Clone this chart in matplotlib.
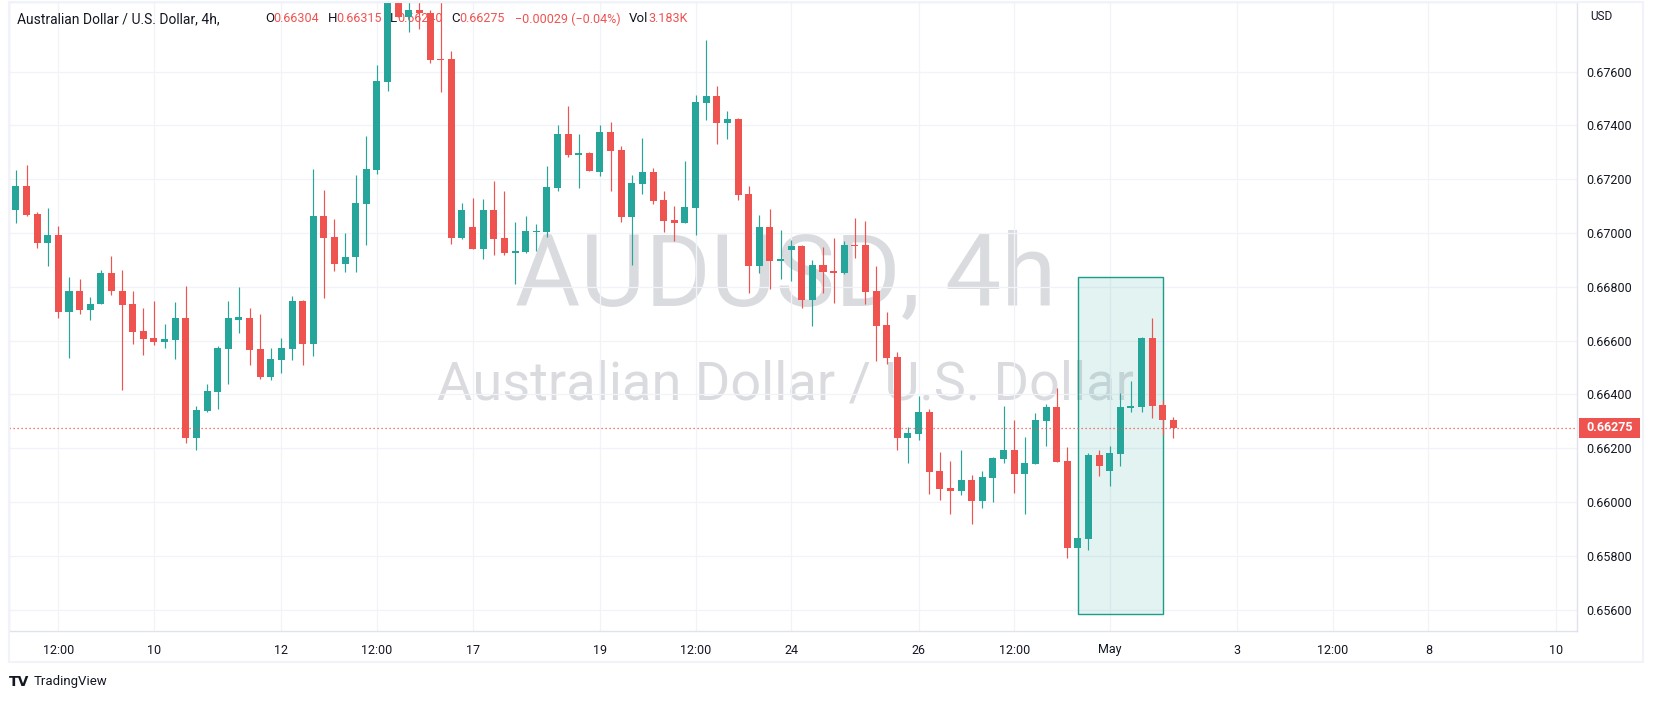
import matplotlib
matplotlib.use("Agg")
import matplotlib.pyplot as plt
from matplotlib.patches import Rectangle
import numpy as np

plt.rcParams['font.family'] = ['Roboto', 'DejaVu Sans']

# ---------------- data (4h candles, AUDUSD) ----------------
opens = [0.67086, 0.67175, 0.67072, 0.66962, 0.66994, 0.66706, 0.66786, 0.66714, 0.66736, 0.66853,
         0.66786, 0.66735, 0.66635, 0.66609, 0.66595, 0.66603, 0.66686, 0.66240, 0.66340, 0.66410,
         0.66569, 0.66678, 0.66686, 0.66568, 0.66465, 0.66528, 0.66569, 0.66746, 0.66588, 0.67063,
         0.66986, 0.66884, 0.66910, 0.67109, 0.67233, 0.67563, 0.67895, 0.67803, 0.67828, 0.67820,
         0.67648, 0.67647, 0.66981, 0.67024, 0.66942, 0.67086, 0.66982, 0.66927, 0.66930, 0.67004,
         0.67005, 0.67169, 0.67368, 0.67292, 0.67298, 0.67228, 0.67376, 0.67309, 0.67061, 0.67184,
         0.67227, 0.67123, 0.67049, 0.67039, 0.67095, 0.67485, 0.67510, 0.67411, 0.67424, 0.67145,
         0.66879, 0.67023, 0.66898, 0.66938, 0.66952, 0.66753, 0.66881, 0.66859, 0.66853, 0.66956,
         0.66956, 0.66785, 0.66658, 0.66539, 0.66240, 0.66254, 0.66335, 0.66116, 0.66052, 0.66043,
         0.66082, 0.66005, 0.66091, 0.66161, 0.66194, 0.66106, 0.66143, 0.66303, 0.66355, 0.66153,
         0.65831, 0.65864, 0.66175, 0.66116, 0.66180, 0.66351, 0.66355, 0.66610, 0.66361, 0.66304]
highs = [0.67235, 0.67253, 0.67080, 0.67094, 0.67027, 0.66835, 0.66831, 0.66764, 0.66864, 0.66916,
         0.66864, 0.66786, 0.66720, 0.66749, 0.66661, 0.66742, 0.66805, 0.66358, 0.66438, 0.66579,
         0.66746, 0.66799, 0.66720, 0.66698, 0.66572, 0.66609, 0.66768, 0.66753, 0.67237, 0.67159,
         0.67052, 0.67001, 0.67215, 0.67360, 0.67625, 0.67920, 0.67925, 0.67890, 0.67859, 0.67828,
         0.67880, 0.67678, 0.67111, 0.67132, 0.67128, 0.67195, 0.67158, 0.67041, 0.67064, 0.67034,
         0.67249, 0.67403, 0.67473, 0.67368, 0.67302, 0.67401, 0.67413, 0.67324, 0.67216, 0.67354,
         0.67242, 0.67157, 0.67101, 0.67268, 0.67513, 0.67718, 0.67547, 0.67454, 0.67428, 0.67175,
         0.67067, 0.67090, 0.67012, 0.66976, 0.66956, 0.66901, 0.66948, 0.66982, 0.66972, 0.67055,
         0.67045, 0.66878, 0.66707, 0.66558, 0.66278, 0.66393, 0.66346, 0.66186, 0.66154, 0.66194,
         0.66101, 0.66116, 0.66168, 0.66357, 0.66305, 0.66242, 0.66331, 0.66365, 0.66424, 0.66205,
         0.65869, 0.66183, 0.66192, 0.66209, 0.66406, 0.66451, 0.66614, 0.66684, 0.66380, 0.66315]
lows = [0.67039, 0.67062, 0.66943, 0.66877, 0.66684, 0.66536, 0.66699, 0.66677, 0.66736, 0.66769,
        0.66417, 0.66588, 0.66547, 0.66584, 0.66573, 0.66532, 0.66220, 0.66195, 0.66336, 0.66347,
        0.66440, 0.66627, 0.66509, 0.66458, 0.66454, 0.66480, 0.66528, 0.66510, 0.66543, 0.66760,
        0.66858, 0.66854, 0.66854, 0.66957, 0.67220, 0.67530, 0.67803, 0.67748, 0.67760, 0.67631,
        0.67523, 0.66958, 0.66978, 0.66940, 0.66905, 0.66920, 0.66920, 0.66812, 0.66927, 0.66935,
        0.66984, 0.67158, 0.67284, 0.67169, 0.67230, 0.67214, 0.67158, 0.67043, 0.66880, 0.67147,
        0.67109, 0.67005, 0.66972, 0.67039, 0.66994, 0.67422, 0.67333, 0.67351, 0.67124, 0.66779,
        0.66853, 0.66793, 0.66831, 0.66823, 0.66723, 0.66656, 0.66779, 0.66741, 0.66849, 0.66909,
        0.66738, 0.66526, 0.66515, 0.66195, 0.66147, 0.66232, 0.66031, 0.66009, 0.65957, 0.66028,
        0.65920, 0.65979, 0.66002, 0.66147, 0.66035, 0.65957, 0.66143, 0.66210, 0.66149, 0.65793,
        0.65828, 0.65823, 0.66098, 0.66061, 0.66135, 0.66336, 0.66336, 0.66314, 0.66251, 0.66240]
closes = [0.67175, 0.67068, 0.66962, 0.66994, 0.66706, 0.66786, 0.66714, 0.66738, 0.66853, 0.66784,
          0.66732, 0.66632, 0.66606, 0.66595, 0.66605, 0.66686, 0.66240, 0.66342, 0.66412, 0.66572,
          0.66683, 0.66688, 0.66565, 0.66465, 0.66531, 0.66572, 0.66746, 0.66588, 0.67063, 0.66983,
          0.66884, 0.66912, 0.67111, 0.67237, 0.67566, 0.67895, 0.67803, 0.67828, 0.67818, 0.67643,
          0.67643, 0.66981, 0.67087, 0.66942, 0.67086, 0.66979, 0.66927, 0.66932, 0.67007, 0.67008,
          0.67171, 0.67368, 0.67292, 0.67298, 0.67230, 0.67376, 0.67307, 0.67061, 0.67186, 0.67227,
          0.67121, 0.67046, 0.67039, 0.67097, 0.67487, 0.67510, 0.67411, 0.67424, 0.67143, 0.66879,
          0.67023, 0.66898, 0.66904, 0.66952, 0.66753, 0.66881, 0.66857, 0.66853, 0.66956, 0.66953,
          0.66782, 0.66656, 0.66537, 0.66240, 0.66257, 0.66335, 0.66113, 0.66050, 0.66043, 0.66081,
          0.66005, 0.66092, 0.66164, 0.66194, 0.66106, 0.66145, 0.66305, 0.66355, 0.66150, 0.65831,
          0.65867, 0.66175, 0.66135, 0.66183, 0.66355, 0.66359, 0.66610, 0.66359, 0.66304, 0.66275]
volume_text = "3.183K"

xtick_index = [4, 13, 25, 34, 43, 55, 64, 73, 85, 94, 103, 115, 124, 133, 145]
xtick_labels = ['12:00', '10', '12', '12:00', '17', '19', '12:00', '24', '26', '12:00',
                'May', '3', '12:00', '8', '10']
ytick_values = [0.656, 0.658, 0.660, 0.662, 0.664, 0.666, 0.668, 0.670, 0.672, 0.674, 0.676]

box_start, box_end = 100, 108
box_low, box_high = 0.65585, 0.66835

title = "Australian Dollar / U.S. Dollar, 4h,"
wm_line1 = "AUDUSD, 4h"
wm_line2 = "Australian Dollar / U.S. Dollar"

# ---------------- style ----------------
UP = '#26a69a'
DOWN = '#ef5350'
TXT = '#131722'
GRID = '#f0f3fa'
BORDER = '#e0e3eb'

W, H = 1654, 701
fig = plt.figure(figsize=(W / 100, H / 100), dpi=100)
fig.patch.set_facecolor('white')

L, R, T, B = 9, 1577, 2, 631
ax = fig.add_axes([L / W, 1 - B / H, (R - L) / W, (B - T) / H])
ax.set_xlim(-0.65, 147.0)
ax.set_ylim(0.655208, 0.678591)

o = np.array(opens); h = np.array(highs); l = np.array(lows); c = np.array(closes)
x = np.arange(len(o))
up = c >= o
cols = np.where(up, UP, DOWN)

# watermark
wm_col = (178/255, 181/255, 190/255, 0.48)
ax.text(0.4955, 0.5167, wm_line1, transform=ax.transAxes, ha='center', va='baseline',
        fontsize=72, color=wm_col, zorder=0.1)
ax.text(0.4955, 0.3688, wm_line2, transform=ax.transAxes, ha='center', va='baseline',
        fontsize=39, color=wm_col, zorder=0.1)

# grid
ax.set_axisbelow(True)
ax.set_xticks(xtick_index)
ax.set_xticklabels(xtick_labels)
ax.set_yticks(ytick_values)
ax.set_yticklabels([f"{v:.5f}" for v in ytick_values])
ax.grid(True, color=GRID, linewidth=0.9)

# rectangle drawing
ax.add_patch(Rectangle((box_start, box_low), box_end - box_start, box_high - box_low,
                       facecolor=(38/255, 166/255, 154/255, 0.13), edgecolor='#1a9e8a',
                       linewidth=1.0, zorder=1.5))

# header legend (drawn under the candles, as in the reference)
yh = 1 - 19 / H
ax.text(17 / W, yh, title, color=TXT, fontsize=10, va='center', ha='left',
        transform=fig.transFigure, zorder=1)
chg = closes[-1] - closes[-2]
pct = chg / closes[-2] * 100
items = [(265, "O", 273.5, f"{opens[-1]:.5f}"),
         (327.5, "H", 336, f"{highs[-1]:.5f}"),
         (390, "L", 397, f"{lows[-1]:.5f}"),
         (451.5, "C", 459.5, f"{closes[-1]:.5f}")]
for xl, lab, xv, val in items:
    ax.text(xl / W, yh, lab, color=TXT, fontsize=9.5, va='center', ha='left',
            transform=fig.transFigure, zorder=1)
    ax.text(xv / W, yh, val, color=DOWN, fontsize=9, va='center', ha='left',
            transform=fig.transFigure, zorder=1)
ax.text(515 / W, yh, f"\u2212{abs(chg):.5f} (\u2212{abs(pct):.2f}%)", color=DOWN,
        fontsize=9, va='center', ha='left', transform=fig.transFigure, zorder=1)
ax.text(629 / W, yh, "Vol", color=TXT, fontsize=9.5, va='center', ha='left',
        transform=fig.transFigure, zorder=1)
ax.text(648 / W, yh, volume_text, color=DOWN, fontsize=9, va='center', ha='left',
        transform=fig.transFigure, zorder=1)

# candles
ax.vlines(x, l, h, colors=cols, linewidth=0.85, zorder=2)
body_h = np.maximum(np.abs(c - o), 0.00004)
body_b = np.where(np.abs(c - o) < 0.00004, (o + c) / 2 - 0.00002, np.minimum(o, c))
ax.bar(x, body_h, bottom=body_b, width=0.66, color=cols, linewidth=0, zorder=3)

# last price line
last = closes[-1]
ax.axhline(last, color=DOWN, linewidth=0.9, linestyle=(0, (1, 2.2)), zorder=4)

# axes styling
ax.yaxis.tick_right()
ax.tick_params(axis='y', length=0, pad=7, labelsize=9, labelcolor=TXT)
ax.tick_params(axis='x', length=0, pad=9, labelsize=9, labelcolor=TXT)
for s in ax.spines.values():
    s.set_color(BORDER)
    s.set_linewidth(1.0)

# outer border
fig.add_artist(Rectangle((L / W, 1 - 662 / H), (1643 - L) / W, (662 - T) / H,
                         transform=fig.transFigure, fill=False, edgecolor=GRID, linewidth=1.5))

# last price label
ylab = 1 - 428 / H
fig.add_artist(Rectangle((1579 / W, ylab - 10 / H), 61 / W, 20 / H, transform=fig.transFigure,
                         facecolor=DOWN, edgecolor='none'))
fig.text(1586 / W, ylab, f"{last:.5f}", color='white', fontsize=9, fontweight='bold',
         va='center', ha='left')
fig.text(1590 / W, 1 - 17 / H, "USD", color=TXT, fontsize=8.5, va='center', ha='left')

# TradingView logo
fig.text(9 / W, 1 - 682 / H, "TV", color=TXT, fontsize=10, fontweight='heavy',
         va='center', ha='left', family=['DejaVu Sans'])
fig.text(34 / W, 1 - 682 / H, "TradingView", color=TXT, fontsize=9.5, va='center', ha='left')

fig.savefig("out.png", dpi=100, facecolor='white')
